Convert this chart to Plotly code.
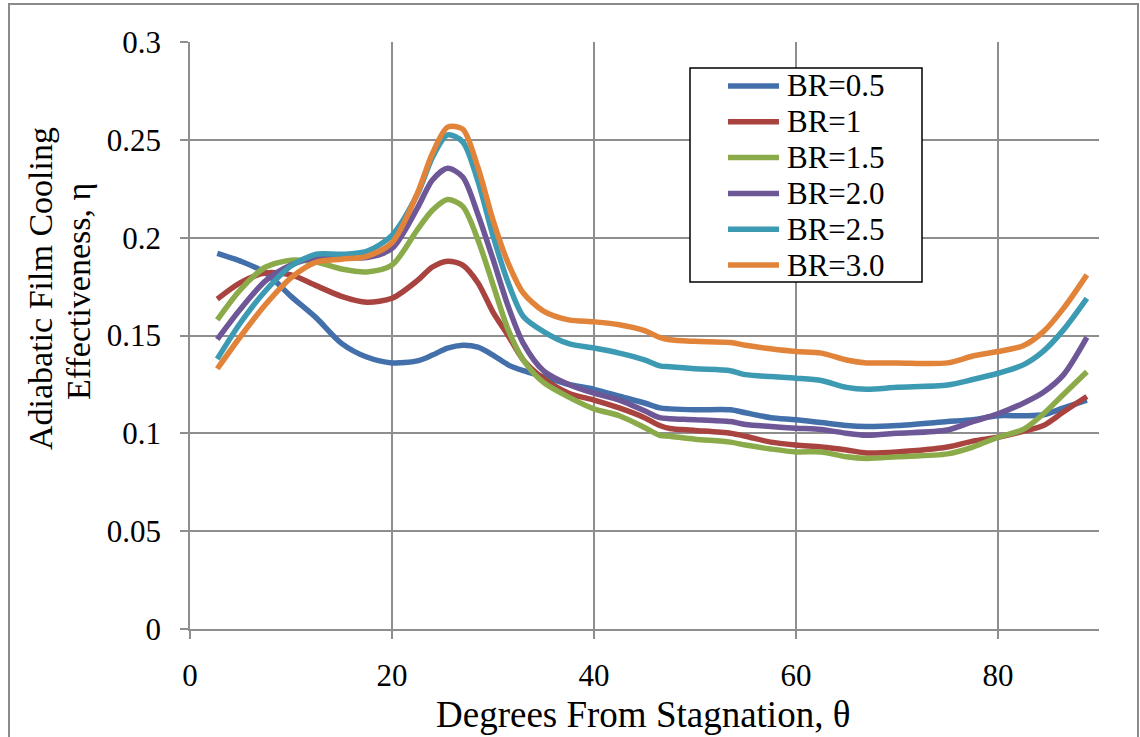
import plotly.graph_objects as go

# Angular position from stagnation (degrees)
theta = [2.7, 5, 7.5, 10, 12.5, 15, 17.5, 20, 22.5, 24, 25.5, 27, 28.5, 30,
         31.5, 33, 35, 37.5, 40, 42.5, 45, 46.5, 47.5, 50, 53.5, 55, 57.5,
         60, 62.5, 65, 67, 70, 75, 77.5, 80, 82.5, 84.5, 86.5, 88.8]

# Adiabatic film cooling effectiveness for each blowing ratio
eta_br05 = [0.192, 0.188, 0.182, 0.170, 0.159, 0.146, 0.139, 0.136, 0.137, 0.140,
            0.1435, 0.145, 0.144, 0.140, 0.135, 0.132, 0.129, 0.125, 0.1225, 0.119,
            0.1155, 0.113, 0.1125, 0.112, 0.112, 0.1105, 0.108, 0.107, 0.1055,
            0.104, 0.1035, 0.104, 0.106, 0.107, 0.109, 0.109, 0.1095, 0.113, 0.117]
eta_br10 = [0.1686, 0.177, 0.182, 0.181, 0.1755, 0.170, 0.167, 0.169, 0.178, 0.185,
            0.188, 0.186, 0.177, 0.162, 0.150, 0.1375, 0.128, 0.1205, 0.117, 0.113,
            0.108, 0.104, 0.1025, 0.1015, 0.100, 0.0985, 0.0955, 0.094, 0.093,
            0.0915, 0.090, 0.0905, 0.093, 0.096, 0.098, 0.101, 0.104, 0.111, 0.1188]
eta_br15 = [0.158, 0.1735, 0.185, 0.1885, 0.1875, 0.184, 0.1825, 0.186, 0.204, 0.214,
            0.2195, 0.216, 0.199, 0.176, 0.153, 0.1375, 0.126, 0.1185, 0.1125, 0.109,
            0.103, 0.099, 0.0985, 0.097, 0.0955, 0.094, 0.092, 0.0905, 0.0905,
            0.088, 0.0872, 0.088, 0.0895, 0.093, 0.098, 0.102, 0.110, 0.120, 0.1315]
eta_br20 = [0.148, 0.1635, 0.178, 0.186, 0.1897, 0.190, 0.1898, 0.1945, 0.215, 0.2295,
            0.2355, 0.231, 0.212, 0.189, 0.165, 0.146, 0.132, 0.125, 0.1205, 0.117,
            0.1115, 0.108, 0.1075, 0.107, 0.106, 0.1045, 0.1035, 0.1026, 0.102,
            0.100, 0.099, 0.100, 0.1017, 0.106, 0.110, 0.1154, 0.121, 0.130, 0.149]
eta_br25 = [0.138, 0.1565, 0.173, 0.1855, 0.1915, 0.1915, 0.193, 0.2012, 0.222, 0.241,
            0.2525, 0.249, 0.229, 0.201, 0.177, 0.1597, 0.152, 0.1458, 0.1436, 0.141,
            0.1375, 0.1345, 0.134, 0.133, 0.132, 0.130, 0.129, 0.1282, 0.127,
            0.1235, 0.1225, 0.1235, 0.1247, 0.1275, 0.1307, 0.135, 0.142, 0.153, 0.169]
eta_br30 = [0.133, 0.1495, 0.166, 0.1795, 0.1875, 0.189, 0.1905, 0.1975, 0.2225, 0.243,
            0.2565, 0.2555, 0.236, 0.209, 0.187, 0.1717, 0.1625, 0.158, 0.157, 0.1555,
            0.1525, 0.149, 0.1478, 0.147, 0.1464, 0.145, 0.1432, 0.1418, 0.141,
            0.1375, 0.136, 0.136, 0.136, 0.1395, 0.1418, 0.1448, 0.152, 0.164, 0.181]

series_names = ["BR=0.5", "BR=1", "BR=1.5", "BR=2.0", "BR=2.5", "BR=3.0"]
series_values = [eta_br05, eta_br10, eta_br15, eta_br20, eta_br25, eta_br30]
series_colors = ["#4370AB", "#A9433F", "#8BAB4A", "#6E5797", "#3D9AB3", "#E2833A"]

x_ticks = [0, 20, 40, 60, 80]
y_ticks = [0, 0.05, 0.1, 0.15, 0.2, 0.25, 0.3]
y_tick_text = ["0", "0.05", "0.1", "0.15", "0.2", "0.25", "0.3"]

FONT = "Liberation Serif, Times New Roman, serif"
GRID = "#8E8E8E"

# plot-area geometry (pixels) used for the frame and legend placement
W, H = 1140, 737
L, R, T, B = 190, 41, 42, 108
PW, PH = W - L - R, H - T - B


def px_x(p):
    return (p - L) / PW


def px_y(p):
    return (H - B - p) / PH


fig = go.Figure()
for name, vals, col in zip(series_names, series_values, series_colors):
    fig.add_trace(go.Scatter(
        x=theta, y=vals, name=name, mode="lines",
        line=dict(color=col, width=5.5, shape="spline", smoothing=0.8),
        showlegend=False,
    ))

fig.update_layout(
    width=W, height=H,
    margin=dict(l=L, r=R, t=T, b=B),
    paper_bgcolor="white", plot_bgcolor="white",
    font=dict(family=FONT, size=31, color="black"),
)

fig.update_xaxes(
    range=[0, 90], tickvals=x_ticks, showgrid=True, gridcolor=GRID, gridwidth=1.5,
    zeroline=False, showline=True, linecolor=GRID, linewidth=2,
    ticks="outside", ticklen=8, tickcolor=GRID, tickwidth=1.5,
    ticklabelstandoff=10,
    tickfont=dict(family=FONT, size=31, color="black"),
)
fig.update_yaxes(
    range=[0, 0.3], tickvals=y_ticks, ticktext=y_tick_text,
    showgrid=True, gridcolor=GRID, gridwidth=1.5,
    zeroline=False, showline=True, linecolor=GRID, linewidth=1.5,
    ticks="outside", ticklen=8, tickcolor=GRID, tickwidth=1.5,
    ticklabelstandoff=13,
    tickfont=dict(family=FONT, size=31, color="black"),
)

# outer chart frame
fig.add_shape(type="rect", xref="paper", yref="paper",
              x0=px_x(9), x1=px_x(1138), y0=px_y(760), y1=px_y(4),
              line=dict(color="#8A8A8A", width=2), layer="below")

# axis titles
fig.add_annotation(text="Degrees From Stagnation, θ", xref="paper", yref="paper",
                   x=px_x(643), y=px_y(715), showarrow=False,
                   xanchor="center", yanchor="middle",
                   font=dict(family=FONT, size=37, color="black"))
fig.add_annotation(text="Adiabatic Film Cooling", xref="paper", yref="paper",
                   x=px_x(40), y=px_y(289), showarrow=False, textangle=-90,
                   xanchor="center", yanchor="middle",
                   font=dict(family=FONT, size=34, color="black"))
fig.add_annotation(text="Effectiveness, η", xref="paper", yref="paper",
                   x=px_x(78), y=px_y(292), showarrow=False, textangle=-90,
                   xanchor="center", yanchor="middle",
                   font=dict(family=FONT, size=34, color="black"))

# legend box with line samples
fig.add_shape(type="rect", xref="paper", yref="paper",
              x0=px_x(690), x1=px_x(922), y0=px_y(282), y1=px_y(68),
              line=dict(color="black", width=1.5), fillcolor="white")
row0, row_step = 86, 35.8
for i, (name, col) in enumerate(zip(series_names, series_colors)):
    yc = row0 + i * row_step
    fig.add_shape(type="line", xref="paper", yref="paper",
                  x0=px_x(728), x1=px_x(779), y0=px_y(yc), y1=px_y(yc),
                  line=dict(color=col, width=5.5))
    fig.add_annotation(text=name, xref="paper", yref="paper",
                       x=px_x(785), y=px_y(yc), showarrow=False,
                       xanchor="left", yanchor="middle",
                       font=dict(family=FONT, size=31, color="black"))

fig.write_html("out.html")
